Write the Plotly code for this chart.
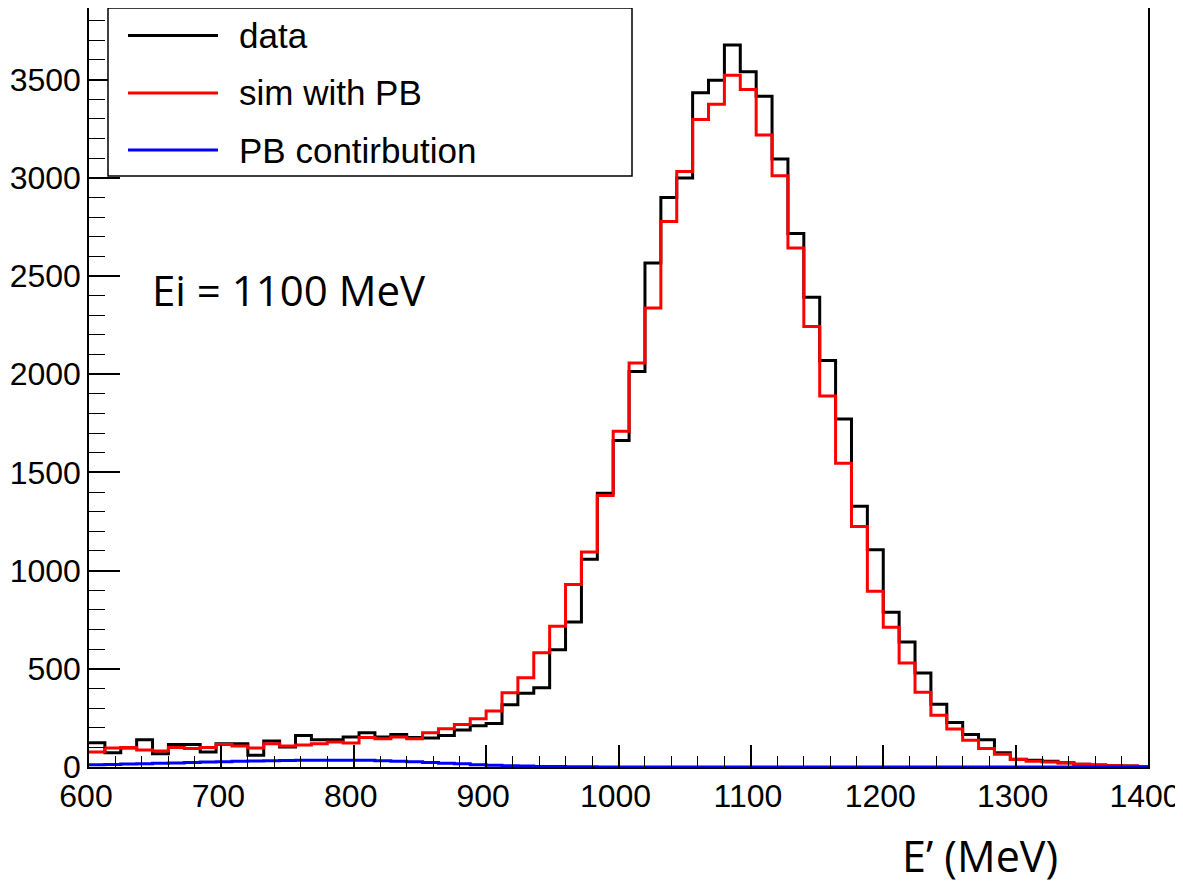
import numpy as np
import plotly.graph_objects as go

# ---- data ----
bin_low = 600.0
bin_width = 12.0
data_counts = [124, 73, 97, 139, 68, 114, 114, 76, 119, 119, 60, 132, 102, 161, 139, 139, 153, 175,
               153, 166, 150, 148, 161, 188, 210, 222, 317, 376, 404, 597, 738, 1058, 1394, 1662,
               2013, 2566, 2899, 2998, 3432, 3496, 3676, 3539, 3415, 3095, 2716, 2391, 2069, 1772,
               1328, 1106, 788, 636, 478, 319, 227, 166, 139, 73, 39, 34, 29, 22, 14, 10, 7, 5, 3]
sim_counts = [76, 97, 99, 86, 81, 99, 94, 99, 114, 107, 97, 119, 107, 112, 119, 127, 122, 150,
              144, 153, 144, 175, 195, 216, 246, 285, 378, 455, 582, 717, 929, 1095, 1382, 1709,
              2057, 2337, 2777, 3032, 3296, 3374, 3522, 3449, 3217, 3010, 2642, 2242, 1889, 1546,
              1224, 895, 712, 529, 380, 263, 193, 136, 94, 65, 38, 29, 25, 20, 14, 10, 7, 5, 3]
pb_counts = [11, 13, 15, 17, 19, 21, 23, 25, 27, 29, 31, 32, 33, 34, 35, 35, 35, 34,
             32, 29, 27, 23, 19, 16, 12, 9, 7, 5, 3, 2, 1, 1, 0.5, 0.3, 0.2, 0.1, 0,
             0, 0, 0, 0, 0, 0, 0, 0, 0, 0, 0, 0, 0, 0, 0, 0, 0, 0, 0, 0, 0, 0, 0, 0,
             0, 0, 0, 0, 0, 0]
legend_labels = ["data", "sim with PB", "PB contirbution"]
series_colors = ["#000000", "#ff0000", "#0000ff"]
x_tick_vals = [600, 700, 800, 900, 1000, 1100, 1200, 1300, 1400]
x_tick_text = ["600", "700", "800", "900", "1000", "1100", "1200", "1300", "1400"]
y_tick_vals = [0, 500, 1000, 1500, 2000, 2500, 3000, 3500]
y_tick_text = ["0", "500", "1000", "1500", "2000", "2500", "3000", "3500"]
annotation_text = "Ei = 1100 MeV"
x_title = "E\u2019 (MeV)"

n_bins = len(data_counts)
edges = bin_low + bin_width * np.arange(n_bins + 1)


def step_xy(counts):
    ys = list(counts) + [counts[-1]]
    return edges, ys


# the page body adds an 8 px offset; work in window pixels and convert
OFF = 8
W, H = 1183 - OFF, 884 - OFF
L, R, T, B = 89, 1148, 8, 767  # plot area in window pixels


def px(xp):
    return (xp - L) / (R - L)


def py(yp):
    return (B - yp) / (B - T)


fig = go.Figure()
for counts, col, name in zip([data_counts, sim_counts, pb_counts], series_colors, legend_labels):
    xs, ys = step_xy(counts)
    fig.add_trace(go.Scatter(x=xs, y=ys, mode="lines", line=dict(color=col, width=3, shape="hv"),
                             name=name, showlegend=False, hoverinfo="skip"))

tickfont = dict(family="Liberation Sans, Arial, sans-serif", size=32, color="black")

fig.update_layout(
    width=W, height=H,
    margin=dict(l=L - OFF, r=W - (R - OFF), t=T - OFF, b=H - (B - OFF), pad=0),
    paper_bgcolor="white", plot_bgcolor="white",
    showlegend=False,
    xaxis=dict(range=[600, 1400.001], tickvals=x_tick_vals, ticktext=x_tick_text,
               ticks="inside", ticklen=22, tickwidth=1.5, tickcolor="black", ticklabelshift=-3,
               minor=dict(dtick=20, tick0=600, ticks="inside", ticklen=11, tickwidth=1.2, tickcolor="black", showgrid=False),
               showline=True, linecolor="black", linewidth=1.5, mirror=True, automargin=False,
               showgrid=False, zeroline=False, tickfont=tickfont, ticklabeloverflow="allow"),
    yaxis=dict(range=[0, 3864], tickvals=y_tick_vals, ticktext=y_tick_text,
               ticks="inside", ticklen=31, tickwidth=1.5, tickcolor="black",
               minor=dict(dtick=100, tick0=0, ticks="inside", ticklen=16, tickwidth=1.2, tickcolor="black", showgrid=False),
               showline=True, linecolor="black", linewidth=1.5, mirror=True, automargin=False,
               showgrid=False, zeroline=False, tickfont=tickfont, ticklabeloverflow="allow"),
)

# legend box drawn as in the ROOT canvas
shapes = [dict(type="rect", xref="paper", yref="paper", x0=px(108), x1=px(632), y0=py(176), y1=py(T),
               line=dict(color="black", width=1.5), fillcolor="white", layer="above")]
annotations = []
legend_y = [35.5, 93, 150]
for yy, col, lab in zip(legend_y, series_colors, legend_labels):
    shapes.append(dict(type="line", xref="paper", yref="paper", x0=px(128), x1=px(218), y0=py(yy), y1=py(yy),
                       line=dict(color=col, width=3), layer="above"))
    annotations.append(dict(text=lab, xref="paper", yref="paper", x=px(237), y=py(yy), xanchor="left",
                            yanchor="middle", showarrow=False,
                            font=dict(family="Liberation Sans, Arial, sans-serif", size=35, color="black")))

annotations.append(dict(text=annotation_text, xref="paper", yref="paper", x=px(150), y=py(289),
                        xanchor="left", yanchor="middle", showarrow=False,
                        font=dict(family="Open Sans, sans-serif", size=42, color="black")))
annotations.append(dict(text=x_title, xref="paper", yref="paper", x=px(900), y=py(856),
                        xanchor="left", yanchor="middle", showarrow=False,
                        font=dict(family="Open Sans, sans-serif", size=43, color="black")))
fig.update_layout(shapes=shapes, annotations=annotations)

fig.write_html("out.html")
